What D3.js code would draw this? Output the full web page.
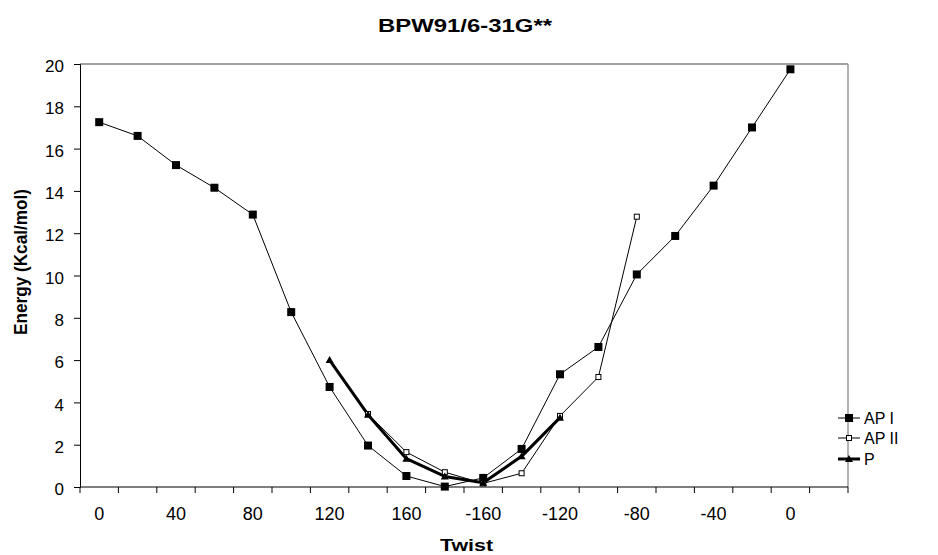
<!DOCTYPE html>
<html>
<head>
<meta charset="utf-8">
<script src="https://cdn.jsdelivr.net/npm/d3@7"></script>
<style>
  html, body { margin: 0; padding: 0; background: #fff; }
  svg { display: block; font-family: Arial, "Liberation Sans", sans-serif; }
</style>
</head>
<body>
<svg id="chart" width="938" height="555"></svg>
<script>
// Twist categories (20 slots; the last one is empty)
const categories = ["0","20","40","60","80","100","120","140","160","180","-160","-140","-120","-100","-80","-60","-40","-20","0","20"];
const tickLabelEvery = 2;
const yTicks = [0,2,4,6,8,10,12,14,16,18,20];

const apI  = [17.25,16.6,15.22,14.15,12.88,8.27,4.73,1.96,0.52,0.02,0.43,1.8,5.33,6.62,10.05,11.87,14.25,17.0,19.75,null];
const apII = [null,null,null,null,null,null,null,3.45,1.65,0.7,0.17,0.65,3.36,5.2,12.78,null,null,null,null,null];
const pSer = [null,null,null,null,null,null,6.0,3.42,1.34,0.5,0.2,1.45,3.28,null,null,null,null,null,null,null];

const seriesNames = ["AP I","AP II","P"];

const FONT = "Arial, 'Liberation Sans', sans-serif";
const svg = d3.select("#chart");
const m = {left: 80, right: 848, top: 64, bottom: 487};

const x = d3.scaleBand().domain(d3.range(categories.length)).range([m.left, m.right]).paddingInner(0).paddingOuter(0);
const y = d3.scaleLinear().domain([0, 20]).range([m.bottom, m.top]);
const cx = i => x(i) + x.bandwidth() / 2;

// frame
svg.append("line").attr("x1", m.left).attr("x2", m.right).attr("y1", m.top).attr("y2", m.top)
  .attr("stroke", "#444").attr("stroke-width", 1);
svg.append("line").attr("x1", m.right).attr("x2", m.right).attr("y1", m.top).attr("y2", m.bottom)
  .attr("stroke", "#999").attr("stroke-width", 1.5);

// y axis
const yAxis = svg.append("g").attr("transform", `translate(${m.left},0)`)
  .call(d3.axisLeft(y).tickValues(yTicks).tickSize(6).tickPadding(10).tickFormat(d3.format("d")));
yAxis.select(".domain").attr("stroke", "#000");
yAxis.selectAll(".tick line").attr("stroke", "#000");
yAxis.selectAll("text").attr("font-size", 17).attr("fill", "#000").attr("font-family", FONT).attr("dy", "0.45em");

// x axis: ticks at category boundaries
const xg = svg.append("g").attr("transform", `translate(0,${m.bottom})`);
xg.append("line").attr("x1", m.left).attr("x2", m.right).attr("y1", 0).attr("y2", 0).attr("stroke", "#000");
const bounds = d3.range(categories.length + 1).map(i => i < categories.length ? x(i) : m.right);
xg.selectAll("line.tk").data(bounds).join("line").attr("class", "tk")
  .attr("x1", d => d).attr("x2", d => d).attr("y1", 0).attr("y2", 6).attr("stroke", "#000");
xg.selectAll("text").data(d3.range(0, categories.length - 1, tickLabelEvery)).join("text")
  .attr("x", d => cx(d)).attr("y", 33).attr("text-anchor", "middle")
  .attr("font-size", 18).attr("font-family", FONT).attr("fill", "#000").text(d => categories[d]);

// titles
svg.append("text").attr("x", 465).attr("y", 32).attr("text-anchor", "middle")
  .attr("font-size", 18.5).attr("font-weight", "bold").attr("font-family", FONT)
  .attr("textLength", 174).attr("lengthAdjust", "spacingAndGlyphs").text("BPW91/6-31G**");
svg.append("text").attr("x", 466.5).attr("y", 551).attr("text-anchor", "middle")
  .attr("font-size", 16).attr("font-weight", "bold").attr("font-family", FONT)
  .attr("textLength", 53).attr("lengthAdjust", "spacingAndGlyphs").text("Twist");
svg.append("text").attr("transform", "translate(27,262) rotate(-90)").attr("text-anchor", "middle")
  .attr("font-size", 18).attr("font-weight", "bold").attr("font-family", FONT)
  .attr("textLength", 146).attr("lengthAdjust", "spacingAndGlyphs").text("Energy (Kcal/mol)");

const line = d3.line().defined(d => d.v !== null).x(d => cx(d.i)).y(d => y(d.v));
const toPts = arr => arr.map((v, i) => ({i, v}));

const styles = [
  {data: apI,  width: 1,   marker: "fsq"},
  {data: apII, width: 1,   marker: "osq"},
  {data: pSer, width: 3,   marker: "tri"}
];

function drawMarker(g, type, px, py) {
  if (type === "fsq") {
    g.append("rect").attr("x", px - 4).attr("y", py - 4).attr("width", 8).attr("height", 8).attr("fill", "#000");
  } else if (type === "osq") {
    g.append("rect").attr("x", px - 2.5).attr("y", py - 2.5).attr("width", 5).attr("height", 5)
      .attr("fill", "#fff").attr("stroke", "#000").attr("stroke-width", 1);
  } else {
    g.append("path").attr("d", `M${px},${py-4}L${px+4},${py+3}L${px-4},${py+3}Z`).attr("fill", "#000");
  }
}

styles.forEach(s => {
  const pts = toPts(s.data);
  svg.append("path").attr("d", line(pts)).attr("fill", "none").attr("stroke", "#000")
    .attr("stroke-width", s.width).attr("stroke-linejoin", "round");
});
styles.forEach(s => {
  const g = svg.append("g");
  toPts(s.data).filter(d => d.v !== null).forEach(d => drawMarker(g, s.marker, cx(d.i), y(d.v)));
});

// legend
const legY = [418, 438, 459];
seriesNames.forEach((name, k) => {
  const g = svg.append("g");
  g.append("line").attr("x1", 838).attr("x2", 860).attr("y1", legY[k]).attr("y2", legY[k])
    .attr("stroke", "#000").attr("stroke-width", styles[k].width);
  drawMarker(g, styles[k].marker, 849, legY[k]);
  g.append("text").attr("x", 864).attr("y", legY[k] + 5.5).attr("font-size", 16)
    .attr("font-family", FONT).attr("fill", "#000").text(name);
});
</script>
</body>
</html>
